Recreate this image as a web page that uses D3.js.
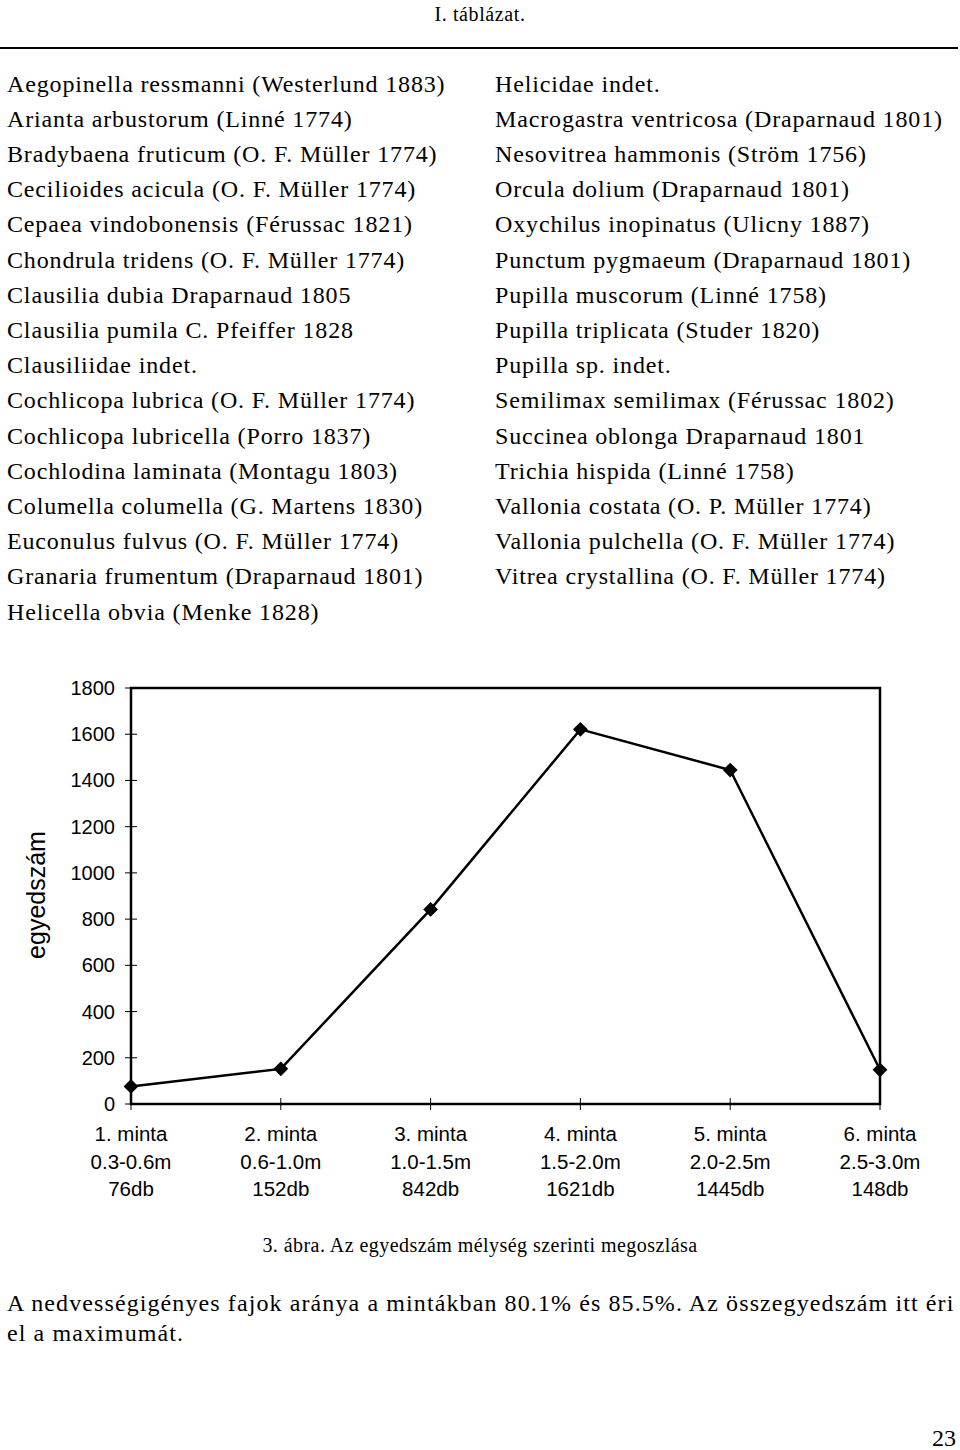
<!DOCTYPE html>
<html><head><meta charset="utf-8">
<script src="https://cdn.jsdelivr.net/npm/d3@7"></script>
<style>body{margin:0;background:#fff}svg{display:block}</style>
</head><body>
<script>
const speciesLeft = [
 "Aegopinella ressmanni (Westerlund 1883)","Arianta arbustorum (Linné 1774)","Bradybaena fruticum (O. F. Müller 1774)",
 "Cecilioides acicula (O. F. Müller 1774)","Cepaea vindobonensis (Férussac 1821)","Chondrula tridens (O. F. Müller 1774)",
 "Clausilia dubia Draparnaud 1805","Clausilia pumila C. Pfeiffer 1828","Clausiliidae indet.","Cochlicopa lubrica (O. F. Müller 1774)",
 "Cochlicopa lubricella (Porro 1837)","Cochlodina laminata (Montagu 1803)","Columella columella (G. Martens 1830)",
 "Euconulus fulvus (O. F. Müller 1774)","Granaria frumentum (Draparnaud 1801)","Helicella obvia (Menke 1828)"];
const speciesRight = [
 "Helicidae indet.","Macrogastra ventricosa (Draparnaud 1801)","Nesovitrea hammonis (Ström 1756)","Orcula dolium (Draparnaud 1801)",
 "Oxychilus inopinatus (Ulicny 1887)","Punctum pygmaeum (Draparnaud 1801)","Pupilla muscorum (Linné 1758)","Pupilla triplicata (Studer 1820)",
 "Pupilla sp. indet.","Semilimax semilimax (Férussac 1802)","Succinea oblonga Draparnaud 1801","Trichia hispida (Linné 1758)",
 "Vallonia costata (O. P. Müller 1774)","Vallonia pulchella (O. F. Müller 1774)","Vitrea crystallina (O. F. Müller 1774)"];
const samples = ["1. minta","2. minta","3. minta","4. minta","5. minta","6. minta"];
const depths = ["0.3-0.6m","0.6-1.0m","1.0-1.5m","1.5-2.0m","2.0-2.5m","2.5-3.0m"];
const counts = [76,152,842,1621,1445,148];
const yTicks = [0,200,400,600,800,1000,1200,1400,1600,1800];

const W=960,H=1450;
const svg=d3.select("body").append("svg").attr("width",W).attr("height",H);
const serif="'Liberation Serif','Times New Roman',serif";
const sans="'Liberation Sans',Arial,sans-serif";

svg.append("text").attr("x",480).attr("y",21).attr("text-anchor","middle")
  .style("font-family",serif).style("font-size","20px").style("letter-spacing","0.6px").text("I. táblázat.");
svg.append("line").attr("x1",0).attr("x2",958).attr("y1",48).attr("y2",48).attr("stroke","#000").attr("stroke-width",2);

function col(list,x){
  svg.append("g").selectAll("text").data(list).join("text")
    .attr("x",x).attr("y",(d,i)=>91.5+i*35.2)
    .style("font-family",serif).style("font-size","24px").style("letter-spacing","0.85px")
    .text(d=>d);
}
col(speciesLeft,7); col(speciesRight,495);

// chart
const x0=131,x1=880,yTop=688,yBot=1104;
const x=d3.scalePoint().domain(samples).range([x0,x1]);
const y=d3.scaleLinear().domain([0,1800]).range([yBot,yTop]);
const g=svg.append("g");
g.append("rect").attr("x",x0).attr("y",yTop).attr("width",x1-x0).attr("height",yBot-yTop)
  .attr("fill","none").attr("stroke","#000").attr("stroke-width",2.5);
g.append("g").selectAll("line").data(yTicks).join("line")
  .attr("x1",x0-6).attr("x2",x0+6).attr("y1",d=>y(d)).attr("y2",d=>y(d)).attr("stroke","#000").attr("stroke-width",1);
g.append("g").selectAll("text").data(yTicks).join("text")
  .attr("x",115).attr("y",d=>y(d)+7).attr("text-anchor","end")
  .style("font-family",sans).style("font-size","20px").text(d=>d);
g.append("g").selectAll("line").data(samples).join("line")
  .attr("x1",d=>x(d)).attr("x2",d=>x(d)).attr("y1",yBot-6).attr("y2",yBot+6).attr("stroke","#000").attr("stroke-width",1);
const xl=g.append("g").selectAll("g").data(samples).join("g");
const fs="20.5px";
xl.append("text").attr("x",d=>x(d)).attr("y",1141).attr("text-anchor","middle").style("font-family",sans).style("font-size",fs).text(d=>d);
xl.append("text").attr("x",d=>x(d)).attr("y",1169).attr("text-anchor","middle").style("font-family",sans).style("font-size",fs).text((d,i)=>depths[i]);
xl.append("text").attr("x",d=>x(d)).attr("y",1196).attr("text-anchor","middle").style("font-family",sans).style("font-size",fs).text((d,i)=>counts[i]+"db");
g.append("text").attr("transform","translate(45,895) rotate(-90)").attr("text-anchor","middle")
  .style("font-family",sans).style("font-size","25px").text("egyedszám");
const line=d3.line().x((d,i)=>x(samples[i])).y(d=>y(d));
g.append("path").datum(counts).attr("d",line).attr("fill","none").attr("stroke","#000").attr("stroke-width",2.5);
g.append("g").selectAll("path").data(counts).join("path")
  .attr("transform",(d,i)=>`translate(${x(samples[i])},${y(d)})`)
  .attr("d",d3.symbol(d3.symbolDiamond2,140)).attr("fill","#000");

svg.append("text").attr("x",480).attr("y",1252).attr("text-anchor","middle")
  .style("font-family",serif).style("font-size","20px").style("letter-spacing","0.45px").text("3. ábra. Az egyedszám mélység szerinti megoszlása");
svg.append("text").attr("x",7).attr("y",1311).style("font-family",serif).style("font-size","24px").style("letter-spacing","1.1px")
  .text("A nedvességigényes fajok aránya a mintákban 80.1% és 85.5%. Az összegyedszám itt éri");
svg.append("text").attr("x",7).attr("y",1341).style("font-family",serif).style("font-size","24px").style("letter-spacing","1.1px")
  .text("el a maximumát.");
svg.append("text").attr("x",956).attr("y",1446).attr("text-anchor","end").style("font-family",serif).style("font-size","24px").text("23");
</script>
</body></html>
